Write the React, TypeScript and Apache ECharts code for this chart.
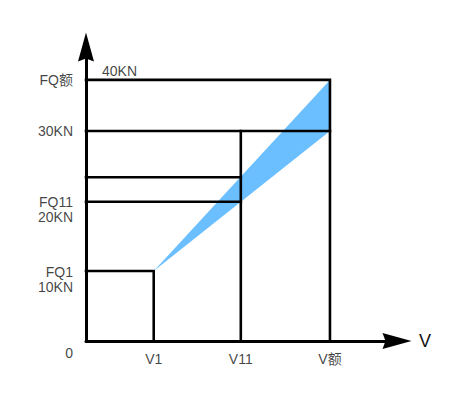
import React, { useEffect, useRef } from 'react';
import * as echarts from 'echarts';

// axis extents (data units)
const X_MAX = 45;
const Y_MAX = 42;

// x tick marks
const xTickLabels = ['V1', 'V11', 'V额'];
const xTickValues = [9.8, 22.4, 35.3];

// y tick marks
const yTickLabels = ['FQ1\n10KN', 'FQ11\n20KN', '30KN', 'FQ额'];
const yTickValues = [10, 19.9, 30, 37.3];
const topExtraLabel = '40KN';
const midLevel = 23.4; // unlabeled line between FQ11 and 30KN

// blue tolerance band: start point, upper end, lower end
const bandStart = [9.8, 10];
const bandUpperEnd = [35.3, 37.3];
const bandLowerEnd = [35.3, 30];

const FONT = '"Liberation Sans", Arial, "Noto Sans CJK SC", sans-serif';
const TXT = '#111';

export default function App() {
  const ref = useRef<HTMLDivElement>(null);
  useEffect(() => {
    if (!ref.current) return;
    const chart = echarts.init(ref.current, undefined, { renderer: 'svg' });
    const [xV1, xV11, xVe] = xTickValues;
    const [y10, y20, y30, yTop] = yTickValues;

    const segments: number[][][] = [
      [[0, y10], [xV1, y10], [xV1, 0]],
      [[0, y20], [xV11, y20]],
      [[0, midLevel], [xV11, midLevel]],
      [[0, y30], [xVe, y30]],
      [[xV11, y30], [xV11, 0]],
      [[0, yTop], [xVe, yTop], [xVe, 0]],
    ];

    const arrow = 'path://M8,0 L16,29 L8,26 L0,29 Z';

    const labelData: any[] = [];
    yTickValues.forEach((v, i) => {
      const twoLine = yTickLabels[i].includes('\n');
      labelData.push({
        value: [0, v],
        label: {
          show: true,
          formatter: yTickLabels[i],
          position: 'left',
          distance: 13,
          align: 'right',
          lineHeight: 15,
          offset: [0, twoLine ? 8 : 0],
        },
      });
    });
    labelData.push({
      value: [0, yTop],
      label: { show: true, formatter: topExtraLabel, position: 'right', distance: 16, offset: [0, -9] },
    });
    labelData.push({
      value: [0, 0],
      label: { show: true, formatter: '0', position: 'left', distance: 13, align: 'right', offset: [0, 12] },
    });
    xTickValues.forEach((v, i) => {
      labelData.push({
        value: [v, 0],
        label: { show: true, formatter: xTickLabels[i], position: 'bottom', distance: 11 },
      });
    });

    chart.setOption({
      animation: false,
      grid: { left: 86, right: 56, top: 47, bottom: 57 },
      xAxis: {
        type: 'value',
        min: 0,
        max: X_MAX,
        splitLine: { show: false },
        axisTick: { show: false },
        axisLabel: { show: false },
        axisLine: {
          show: true,
          onZero: false,
          symbol: ['none', arrow],
          symbolSize: [16, 29],
          lineStyle: { color: '#000', width: 3 },
        },
        name: 'V',
        nameLocation: 'end',
        nameGap: 22,
        nameTextStyle: { fontSize: 18, color: TXT, fontFamily: FONT, verticalAlign: 'middle' },
      },
      yAxis: {
        type: 'value',
        min: 0,
        max: Y_MAX,
        splitLine: { show: false },
        axisTick: { show: false },
        axisLabel: { show: false },
        axisLine: {
          show: true,
          onZero: false,
          symbol: ['none', arrow],
          symbolSize: [16, 29],
          lineStyle: { color: '#000', width: 3 },
        },
      },
      series: [
        {
          type: 'custom',
          z: 1,
          silent: true,
          data: [0],
          renderItem: (_p: any, api: any) => ({
            type: 'polygon',
            shape: { points: [bandStart, bandUpperEnd, bandLowerEnd].map((p) => api.coord(p)) },
            style: { fill: '#6cbfff', stroke: 'none' },
          }),
        },
        ...segments.map((seg) => ({
          type: 'line',
          z: 3,
          data: seg,
          symbol: 'none',
          silent: true,
          lineStyle: { color: '#000', width: 2.6, join: 'miter', cap: 'square' },
        })),
        {
          type: 'scatter',
          z: 5,
          symbolSize: 0,
          silent: true,
          itemStyle: { color: 'transparent' },
          label: { color: TXT, fontSize: 14, fontFamily: FONT },
          data: labelData,
        },
      ],
    });
    return () => chart.dispose();
  }, []);
  return (
    <div
      ref={ref}
      style={{ position: 'fixed', left: 0, top: 0, width: 453, height: 398, background: '#fff' }}
    />
  );
}
